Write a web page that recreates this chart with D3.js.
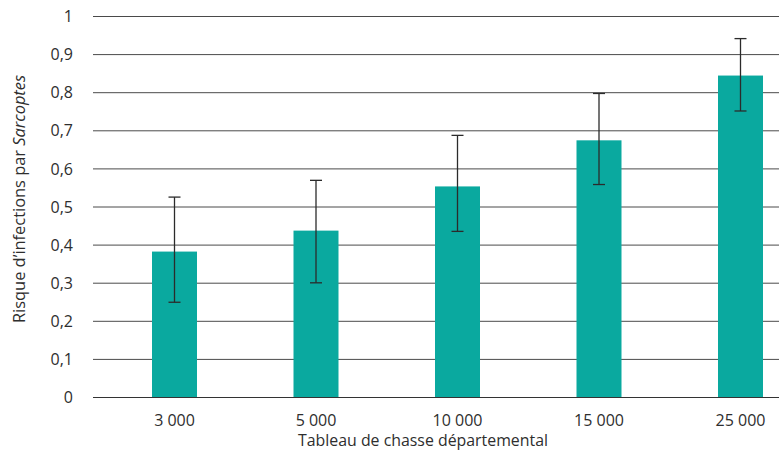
<!DOCTYPE html>
<html><head><meta charset="utf-8">
<script src="https://cdn.jsdelivr.net/npm/d3@7"></script>
<style>body{margin:0;background:#fff}svg{display:block}text{font-family:"Open Sans",sans-serif;fill:#2e2e2e}</style>
</head><body><svg id="c" width="779" height="454"></svg>
<script>
const categories = ["3 000", "5 000", "10 000", "15 000", "25 000"];
const values = [0.383, 0.438, 0.554, 0.675, 0.845];
const errLow = [0.25, 0.301, 0.436, 0.559, 0.752];
const errHigh = [0.526, 0.57, 0.688, 0.798, 0.942];
const yTicks = [0, 0.1, 0.2, 0.3, 0.4, 0.5, 0.6, 0.7, 0.8, 0.9, 1];

const svg = d3.select("#c");
const y = d3.scaleLinear().domain([0, 1]).range([397.5, 16.5]);
const x = d3.scaleBand().domain(categories).range([103.75, 811.25]).paddingInner(0.682).paddingOuter(0.341);
const fmt = d => d === 0 ? "0" : d === 1 ? "1" : d3.format(".1f")(d).replace(".", ",");

// grid
svg.append("g").selectAll("line").data(yTicks).join("line")
  .attr("x1", 93).attr("x2", 779).attr("y1", d => y(d)).attr("y2", d => y(d))
  .attr("stroke", "#4a4a4a").attr("stroke-width", 1);
// y tick labels
svg.append("g").selectAll("text").data(yTicks).join("text")
  .attr("x", 73).attr("y", d => y(d)).attr("dy", "0.35em").attr("text-anchor", "end")
  .style("font-size", "16px").text(fmt);
// bars
svg.append("g").selectAll("rect").data(values).join("rect")
  .attr("x", (d, i) => x(categories[i])).attr("width", x.bandwidth())
  .attr("y", d => y(d)).attr("height", d => y(0) - y(d)).attr("fill", "#0aa99f");
// baseline on top
svg.append("line").attr("x1", 93).attr("x2", 779).attr("y1", y(0)).attr("y2", y(0)).attr("stroke", "#333");
// error bars
const eg = svg.append("g").attr("stroke", "#2b2b2b").attr("stroke-width", 1.3);
categories.forEach((c, i) => {
  const cx = x(c) + x.bandwidth() / 2;
  eg.append("line").attr("x1", cx).attr("x2", cx).attr("y1", y(errLow[i])).attr("y2", y(errHigh[i]));
  eg.append("line").attr("x1", cx - 6).attr("x2", cx + 6).attr("y1", y(errLow[i])).attr("y2", y(errLow[i]));
  eg.append("line").attr("x1", cx - 6).attr("x2", cx + 6).attr("y1", y(errHigh[i])).attr("y2", y(errHigh[i]));
});
// x tick labels
svg.append("g").selectAll("text").data(categories).join("text")
  .attr("x", d => x(d) + x.bandwidth() / 2).attr("y", 426).attr("text-anchor", "middle")
  .style("font-size", "16px").text(d => d);
// axis titles
svg.append("text").attr("x", 423).attr("y", 446).attr("text-anchor", "middle")
  .attr("textLength", 250).attr("lengthAdjust", "spacingAndGlyphs")
  .style("font-size", "16px").text("Tableau de chasse départemental");
const yt = svg.append("text").attr("transform", "translate(25,199) rotate(-90)").attr("text-anchor", "middle")
  .attr("textLength", 248).attr("lengthAdjust", "spacingAndGlyphs")
  .style("font-size", "16px");
yt.append("tspan").text("Risque d’infections par ");
yt.append("tspan").style("font-style", "italic").text("Sarcoptes");
</script></body></html>
